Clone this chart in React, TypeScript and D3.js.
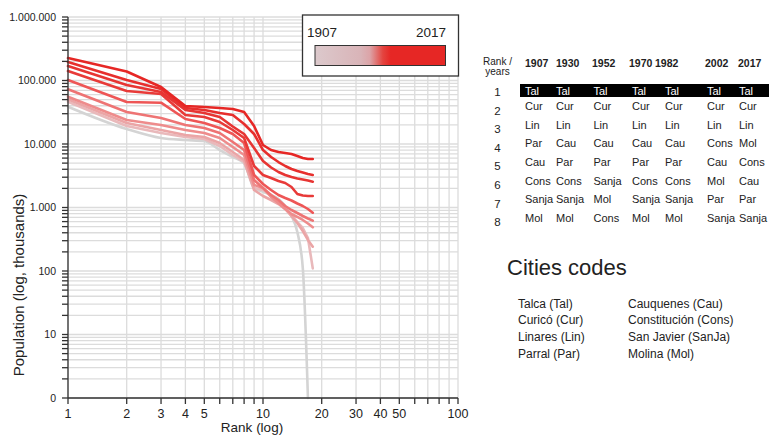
import React from "react";
import * as d3 from "d3";

// ---------- data ----------
const ranks = d3.range(1, 19);
const years = [1907, 1930, 1940, 1952, 1960, 1970, 1982, 1992, 2002, 2017];

const pop1907 = [38680, 17230, 12430, 11560, 11150, 8040, 6240, 4932, 2028, 1774, 1573, 1361, 1056, 735, 411, 111, 0];
const pop1930 = [46370, 19200, 14900, 12890, 11990, 9300, 6710, 5205, 2028, 1886, 1573, 1177, 947, 735, 591, 476, 331, 110];
const pop1940 = [50570, 21410, 16610, 13860, 12890, 10370, 7480, 5600, 1886, 1518, 1313, 1135, 947, 735, 570, 426, 308, 241];
const pop1952 = [55570, 23890, 19920, 16610, 14900, 12430, 8970, 6710, 2262, 2028, 1464, 1177, 947, 790, 709, 636, 560, 488];
const pop1960 = [72680, 31910, 25670, 19920, 17870, 14900, 10750, 8040, 2711, 2028, 1573, 1313, 1056, 913, 819, 735, 671, 620];
const pop1970 = [101800, 45850, 44700, 24750, 21410, 17870, 14370, 10370, 3250, 2345, 1886, 1573, 1411, 1289, 1156, 1056, 947, 828];
const pop1982 = [141100, 68320, 61300, 28620, 26620, 22210, 16610, 12430, 4503, 3250, 2915, 2615, 2431, 2103, 1632, 1545, 1518, 1518];
const pop1992 = [169200, 84950, 65900, 34300, 30770, 26620, 18860, 14370, 8650, 5400, 4265, 3624, 3250, 3022, 2862, 2760, 2662, 2549];
const pop2002 = [195600, 101800, 73500, 36900, 34300, 30770, 28620, 20650, 14370, 8040, 6240, 5205, 4503, 4040, 3756, 3558, 3370, 3250];
const pop2017 = [226000, 138600, 79000, 39700, 38300, 36900, 35600, 31900, 19200, 9650, 8040, 7480, 7220, 6960, 6470, 6020, 5800, 5800];
const series = [pop1907, pop1930, pop1940, pop1952, pop1960, pop1970, pop1982, pop1992, pop2002, pop2017];

const xTickLabels = [1, 2, 3, 4, 5, 10, 20, 30, 40, 50, 100];
const yTickValues = [1, 10, 100, 1000, 10000, 100000, 1000000];
const yTickLabels = ["0", "10", "100", "1.000", "10.000", "100.000", "1.000.000"];

const tableYears = ["1907", "1930", "1952", "1970", "1982", "2002", "2017"];
const col1907 = ["Tal", "Cur", "Lin", "Par", "Cau", "Cons", "Sanja", "Mol"];
const col1930 = ["Tal", "Cur", "Lin", "Cau", "Par", "Cons", "Sanja", "Mol"];
const col1952 = ["Tal", "Cur", "Lin", "Cau", "Par", "Sanja", "Mol", "Cons"];
const col1970 = ["Tal", "Cur", "Lin", "Cau", "Par", "Cons", "Sanja", "Mol"];
const col1982 = ["Tal", "Cur", "Lin", "Cau", "Par", "Cons", "Sanja", "Mol"];
const col2002 = ["Tal", "Cur", "Lin", "Cons", "Cau", "Mol", "Par", "Sanja"];
const col2017 = ["Tal", "Cur", "Lin", "Mol", "Cons", "Cau", "Par", "Sanja"];
const tableCols = [col1907, col1930, col1952, col1970, col1982, col2002, col2017];

const codesLeft = ["Talca (Tal)", "Curicó (Cur)", "Linares (Lin)", "Parral (Par)"];
const codesRight = ["Cauquenes (Cau)", "Constitución (Cons)", "San Javier (SanJa)", "Molina (Mol)"];

// ---------- layout ----------
const W = 769, H = 442;
const FONT = "'Liberation Sans', Arial, Helvetica, sans-serif";

const x = d3.scaleLog().domain([1, 100]).range([68, 458]);
const y = d3.scaleLog().domain([1, 1e6]).range([398, 17]);

const color = d3
  .scaleLinear<string>()
  .domain([1907, 1930, 1952, 1970, 1982, 2017])
  .range(["#d4d4d4", "#e9b9bb", "#ee8c8c", "#ee5656", "#e83a38", "#e62725"]);

const lineLinear = d3
  .line<number>()
  .x((_, i) => x(ranks[i]))
  .y((d) => y(Math.max(1, d)))
  .curve(d3.curveLinear);
const lineSmooth = d3
  .line<number>()
  .x((_, i) => x(ranks[i]))
  .y((d) => y(Math.max(1, d)))
  .curve(d3.curveMonotoneX);

const gridX: number[] = [];
for (let d = 1; d < 100; d *= 10) for (let k = 1; k < 10; k++) gridX.push(k * d);
gridX.push(100);
const gridY: number[] = [];
for (let d = 1; d < 1e6; d *= 10) for (let k = 1; k < 10; k++) gridY.push(k * d);
gridY.push(1e6);

const headX = [525, 556, 592, 629, 655, 705, 738];
const colX = [525, 556, 593.5, 632, 665, 707, 739];
const rowY0 = 94.5;
const rowStep = 18.6;

export default function App() {
  const [x0, x1] = x.range();
  const [yb, yt] = y.range();
  return (
    <svg
      width={W}
      height={H}
      style={{ position: "absolute", left: 0, top: 0, background: "#fff" }}
      fontFamily={FONT}
    >
      <defs>
        <linearGradient id="yearGrad" x1="0" x2="1" y1="0" y2="0">
          <stop offset="0" stopColor="#dcc9cc" />
          <stop offset="0.35" stopColor="#d9b4b8" />
          <stop offset="0.42" stopColor="#dca4a8" />
          <stop offset="0.52" stopColor="#e4443f" />
          <stop offset="0.58" stopColor="#e62725" />
          <stop offset="1" stopColor="#e62725" />
        </linearGradient>
      </defs>
      {/* grid */}
      <g stroke="#dcdcdc" strokeWidth={1.3}>
        {gridX.map((v) => (
          <line key={"gx" + v} x1={x(v)} x2={x(v)} y1={yt} y2={yb} />
        ))}
        {gridY.map((v) => (
          <line key={"gy" + v} x1={x0} x2={x1} y1={y(v)} y2={y(v)} />
        ))}
      </g>
      {/* series */}
      <g fill="none" strokeWidth={2.6} strokeLinejoin="round" strokeLinecap="round">
        {series.map((s, i) => (
          <path
            key={years[i]}
            d={(i === 0 ? lineSmooth(s) : lineLinear(s)) || ""}
            stroke={color(years[i])}
          />
        ))}
      </g>
      {/* axes */}
      <g stroke="#333" strokeWidth={1.3}>
        <line x1={x0} x2={x0} y1={yt} y2={yb} />
        {gridY.map((v) => (
          <line key={"ty" + v} x1={x0 - 6} x2={x0} y1={y(v)} y2={y(v)} />
        ))}
        <line x1={x0} x2={x1} y1={yb} y2={yb} />
        {gridX.map((v) => (
          <line key={"tx" + v} x1={x(v)} x2={x(v)} y1={yb} y2={yb + 6} />
        ))}
      </g>
      <g fontSize={10.5} fill="#222" textAnchor="end">
        {yTickValues.map((v, i) => (
          <text key={"yl" + v} x={x0 - 12} y={y(v)} dy="0.35em">
            {yTickLabels[i]}
          </text>
        ))}
      </g>
      <g fontSize={12.5} fill="#222" textAnchor="middle">
        {xTickLabels.map((v) => (
          <text key={"xl" + v} x={x(v)} y={yb + 20}>
            {v}
          </text>
        ))}
      </g>
      <text x={252} y={432} fontSize={13.5} fill="#222" textAnchor="middle">
        Rank (log)
      </text>
      <text
        transform={`translate(24,285) rotate(-90)`}
        fontSize={15}
        fill="#222"
        textAnchor="middle"
      >
        Population (log, thousands)
      </text>
      {/* legend */}
      <rect x={302.5} y={15} width={156} height={61} fill="#fff" stroke="#333" strokeWidth={1.3} />
      <text x={307} y={37} fontSize={13.5} fill="#222">
        {years[0]}
      </text>
      <text x={446} y={37} fontSize={13.5} fill="#222" textAnchor="end">
        {years[years.length - 1]}
      </text>
      <rect x={315} y={45.5} width={130.5} height={20} fill="url(#yearGrad)" stroke="#333" strokeWidth={1} />
      {/* table */}
      <g fill="#222">
        <text x={497.5} y={64.5} textAnchor="middle" fontSize={10}>Rank /</text>
        <text x={497.5} y={75} textAnchor="middle" fontSize={10}>years</text>
        {tableYears.map((yr, j) => (
          <text key={yr} x={headX[j]} y={67} fontWeight="bold" fontSize={10.5}>
            {yr}
          </text>
        ))}
        <rect x={520} y={84} width={249} height={13} fill="#000" />
        {col1907.map((_, r) => (
          <text key={"rn" + r} x={497.5} y={rowY0 + 1.5 + r * rowStep} textAnchor="middle" fontSize={11.5}>
            {r + 1}
          </text>
        ))}
        {tableCols.map((col, j) =>
          col.map((c, r) => (
            <text
              key={"c" + j + r}
              x={colX[j]}
              y={rowY0 - (r === 0 ? 0 : 3) + r * rowStep}
              fill={r === 0 ? "#fff" : "#222"}
              fontSize={11}
            >
              {c}
            </text>
          ))
        )}
      </g>
      {/* city codes */}
      <text x={507} y={275} fontSize={22} fill="#222">
        Cities codes
      </text>
      <g fontSize={12} fill="#222">
        {codesLeft.map((t, i) => (
          <text key={t} x={518} y={307.5 + i * 16.7}>
            {t}
          </text>
        ))}
        {codesRight.map((t, i) => (
          <text key={t} x={628} y={307.5 + i * 16.7}>
            {t}
          </text>
        ))}
      </g>
    </svg>
  );
}
